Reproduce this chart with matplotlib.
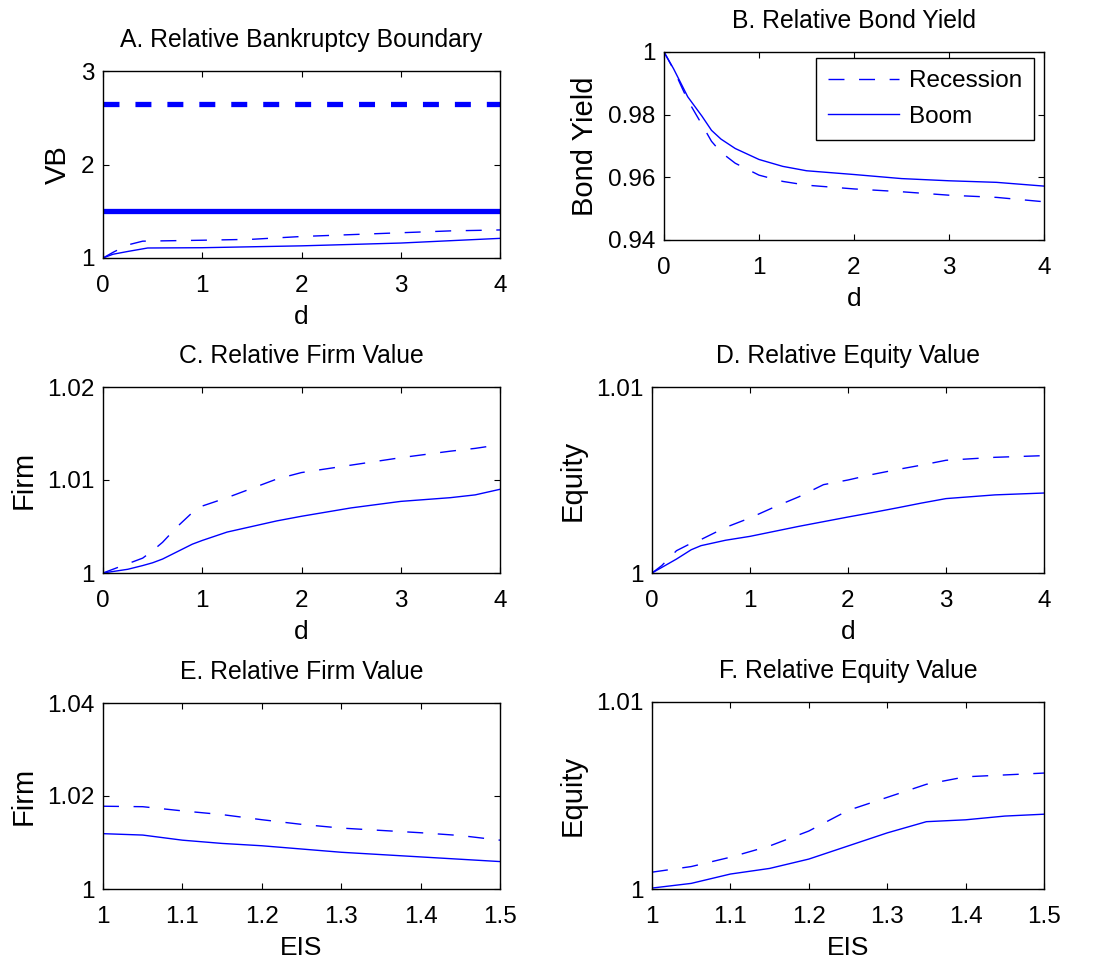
import matplotlib
matplotlib.use("Agg")
import matplotlib.pyplot as plt
from matplotlib.ticker import FuncFormatter

plt.rcParams['font.family'] = ['Liberation Sans', 'DejaVu Sans']
plt.rcParams['lines.scale_dashes'] = False

# ---------------- data ----------------
# Panel A: relative bankruptcy boundary vs d
a_x = [0, 0.1, 0.25, 0.4, 1.0, 1.5, 2.0, 2.5, 3.0, 3.5, 4.0]
a_rec = [1.0, 1.06, 1.14, 1.18, 1.19, 1.20, 1.23, 1.25, 1.27, 1.29, 1.30]
a_x_boom = [0, 0.1, 0.25, 0.45, 1.0, 2.0, 3.0, 4.0]
a_boom = [1.0, 1.04, 1.07, 1.107, 1.11, 1.13, 1.16, 1.21]
a_ref_x = [0, 4]
a_ref_rec = [2.65, 2.65]
a_ref_boom = [1.5, 1.5]

# Panel B: relative bond yield vs d
b_x = [0, 0.1, 0.25, 0.4, 0.5, 0.6, 0.75, 1.0, 1.25, 1.5, 2.0, 2.5, 3.0, 3.5, 4.0]
b_rec = [1.0, 0.9945, 0.9846, 0.9768, 0.9715, 0.9680, 0.9645, 0.9607, 0.9587,
         0.9575, 0.9563, 0.9554, 0.9543, 0.9536, 0.9522]
b_boom = [1.0, 0.9947, 0.9857, 0.9795, 0.9750, 0.9722, 0.9692, 0.9657, 0.9635,
          0.9621, 0.9609, 0.9596, 0.9589, 0.9584, 0.9572]

# Panel C: relative firm value vs d
c_x = [0, 0.25, 0.4, 0.5, 0.6, 0.75, 0.9, 1.0, 1.25, 1.5, 1.75, 2.0, 2.5, 3.0, 3.5, 3.75, 4.0]
c_rec = [1.0, 1.0010, 1.0016, 1.0024, 1.0033, 1.0050, 1.0065, 1.0072, 1.0081, 1.0091,
         1.0101, 1.0108, 1.0116, 1.0124, 1.0131, 1.0134, 1.0138]
c_boom = [1.0, 1.0004, 1.0008, 1.0011, 1.0015, 1.0023, 1.0031, 1.0035, 1.0044, 1.0050,
          1.0056, 1.0061, 1.0070, 1.0077, 1.0081, 1.0084, 1.0090]

# Panel D: relative equity value vs d
d_x = [0, 0.1, 0.25, 0.4, 0.5, 0.75, 1.0, 1.25, 1.5, 1.75, 2.0, 2.25, 2.5, 2.75, 3.0, 3.5, 4.0]
d_rec = [1.0, 1.0004, 1.0012, 1.0016, 1.0018, 1.00245, 1.00296, 1.00355, 1.0041,
         1.00475, 1.0050, 1.0053, 1.00556, 1.0058, 1.00606, 1.00622, 1.00631]
d_boom = [1.0, 1.0003, 1.00075, 1.00125, 1.00147, 1.00176, 1.00197, 1.00224, 1.00251,
          1.00276, 1.00301, 1.00325, 1.0035, 1.00376, 1.0040, 1.0042, 1.0043]

# Panel E: relative firm value vs EIS
e_x = [1.0, 1.05, 1.1, 1.15, 1.2, 1.25, 1.3, 1.35, 1.4, 1.45, 1.5]
e_rec = [1.0178, 1.0177, 1.0168, 1.0160, 1.0149, 1.0139, 1.0131, 1.0126, 1.0121, 1.0115, 1.0105]
e_boom = [1.0119, 1.0116, 1.0105, 1.0098, 1.0093, 1.0086, 1.0079, 1.0074, 1.0069, 1.0064, 1.0059]

# Panel F: relative equity value vs EIS
f_x = [1.0, 1.05, 1.1, 1.15, 1.2, 1.25, 1.3, 1.35, 1.4, 1.45, 1.5]
f_rec = [1.0009, 1.0012, 1.0017, 1.0023, 1.0031, 1.0042, 1.0049, 1.0056, 1.0060, 1.0061, 1.0062]
f_boom = [1.00005, 1.0003, 1.0008, 1.0011, 1.0016, 1.0023, 1.0030, 1.0036, 1.0037, 1.0039, 1.0040]

titles = ['A. Relative Bankruptcy Boundary', 'B. Relative Bond Yield',
          'C. Relative Firm Value', 'D. Relative Equity Value',
          'E. Relative Firm Value', 'F. Relative Equity Value']
ylabels = ['VB', 'Bond Yield', 'Firm', 'Equity', 'Firm', 'Equity']
xlabels = ['d', 'd', 'd', 'd', 'EIS', 'EIS']
legend_labels = ['Recession', 'Boom']

d_ticks = [0, 1, 2, 3, 4]
eis_ticks = [1, 1.1, 1.2, 1.3, 1.4, 1.5]
yticks = [[1, 2, 3], [0.94, 0.96, 0.98, 1.0], [1, 1.01, 1.02], [1, 1.01],
          [1, 1.02, 1.04], [1, 1.01]]

# ---------------- figure ----------------
W, H = 1106, 965
fig = plt.figure(figsize=(W / 100, H / 100), dpi=100)

def box(l, t, r, b):
    return [l / W, 1 - b / H, (r - l) / W, (b - t) / H]

rects = [box(103, 71, 500, 258), box(664, 52, 1044, 240),
         box(103, 387, 500, 573), box(652, 387, 1044, 573),
         box(103, 703, 500, 889), box(652, 702, 1044, 889)]

BLUE = (0, 0, 1)
DASH = (0, (11.5, 10.5))
TICK_FS = 17.5
fmt = FuncFormatter(lambda v, p: '%g' % round(v, 6))

series = [(a_x, a_rec, a_x_boom, a_boom), (b_x, b_rec, b_x, b_boom),
          (c_x, c_rec, c_x, c_boom), (d_x, d_rec, d_x, d_boom),
          (e_x, e_rec, e_x, e_boom), (f_x, f_rec, f_x, f_boom)]

axes = []
for i, rect in enumerate(rects):
    ax = fig.add_axes(rect)
    axes.append(ax)
    xr, yr, xb, yb = series[i]
    lr, = ax.plot(xr, yr, color=BLUE, lw=1.0, linestyle=DASH, label=legend_labels[0])
    lb, = ax.plot(xb, yb, color=BLUE, lw=1.0, linestyle='-', label=legend_labels[1])
    if i == 0:
        ax.plot(a_ref_x, a_ref_rec, color=BLUE, lw=3.8, linestyle=(0, (11.5, 11.5)),
                solid_capstyle='butt', dash_capstyle='butt')
        ax.plot(a_ref_x, a_ref_boom, color=BLUE, lw=3.8, linestyle='-',
                solid_capstyle='butt')
    if i < 4:
        ax.set_xlim(0, 4)
        ax.set_xticks(d_ticks)
    else:
        ax.set_xlim(1, 1.5)
        ax.set_xticks(eis_ticks)
    yt = yticks[i]
    ax.set_ylim(yt[0], yt[-1])
    ax.set_yticks(yt)
    ax.xaxis.set_major_formatter(fmt)
    ax.yaxis.set_major_formatter(fmt)
    ax.tick_params(direction='in', length=4, width=0.8, top=True, right=True,
                   labelsize=TICK_FS, colors='black')
    ax.tick_params(axis='x', pad=12)
    ax.tick_params(axis='y', pad=6)
    for s in ax.spines.values():
        s.set_linewidth(1.0)
        s.set_color('black')
    ax.set_title(titles[i], fontsize=17.8, pad=17)
    ax.set_xlabel(xlabels[i], fontsize=19, labelpad=6)
    ax.set_ylabel(ylabels[i], fontsize=21, labelpad=7)
    if i == 1:
        leg = ax.legend(handles=[lr, lb], loc='upper right',
                        bbox_to_anchor=(0.9737, 0.968), borderaxespad=0,
                        fontsize=17.5, handlelength=2.9, handletextpad=0.4,
                        labelspacing=0.55, borderpad=0.5, fancybox=False,
                        framealpha=1, edgecolor='black')
        leg.get_frame().set_linewidth(1.0)

fig.savefig('out.png', dpi=100)
